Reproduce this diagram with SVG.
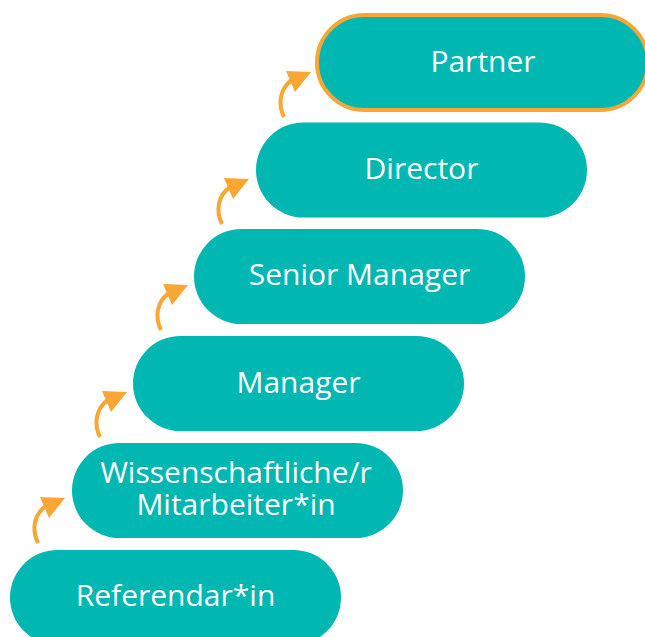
<svg xmlns="http://www.w3.org/2000/svg" width="645" height="637" viewBox="0 0 645 637">
<style>
.node{fill:#00B7B2;}
.partner{stroke:#F9A634;stroke-width:4;}
.lbl{font-family:"Open Sans","Noto Sans",sans-serif;font-size:30px;fill:#FFFFFF;text-anchor:middle;}
.shaft{fill:none;stroke:#F9A634;stroke-width:4;stroke-linecap:butt;}
.head{fill:#F9A634;}
</style>
<defs>
<g id="arrow">
<path class="shaft" d="M0 0 C-6 -12 -5 -28 8 -37"/>
<polygon class="head" points="2,-46 27,-45 11,-25"/>
</g>
</defs>
<rect width="645" height="637" fill="#FFFFFF"/>
<g id="connectors">
<use href="#arrow" transform="translate(38,543)"/>
<use href="#arrow" transform="translate(100,437)"/>
<use href="#arrow" transform="translate(161,330)"/>
<use href="#arrow" transform="translate(222,224)"/>
<use href="#arrow" transform="translate(284,117)"/>
</g>
<g id="node-referendar">
<rect class="node" x="10" y="550" width="331" height="95" rx="47.5"/>
<text class="lbl" x="175.5" y="606">Referendar*in</text>
</g>
<g id="node-wiss">
<rect class="node" x="72" y="443" width="331" height="95" rx="47.5"/>
<text class="lbl" x="236" y="483">Wissenschaftliche/r<tspan x="236" dy="32">Mitarbeiter*in</tspan></text>
</g>
<g id="node-manager">
<rect class="node" x="133" y="336" width="331" height="95" rx="47.5"/>
<text class="lbl" x="298.5" y="393">Manager</text>
</g>
<g id="node-senior-manager">
<rect class="node" x="194" y="229" width="331" height="95" rx="47.5"/>
<text class="lbl" x="359.5" y="285">Senior Manager</text>
</g>
<g id="node-director">
<rect class="node" x="256" y="122.5" width="331" height="95" rx="47.5"/>
<text class="lbl" x="421.5" y="179">Director</text>
</g>
<g id="node-partner">
<rect class="node partner" x="317" y="15" width="331" height="95" rx="47.5"/>
<text class="lbl" x="483" y="72">Partner</text>
</g>
</svg>
